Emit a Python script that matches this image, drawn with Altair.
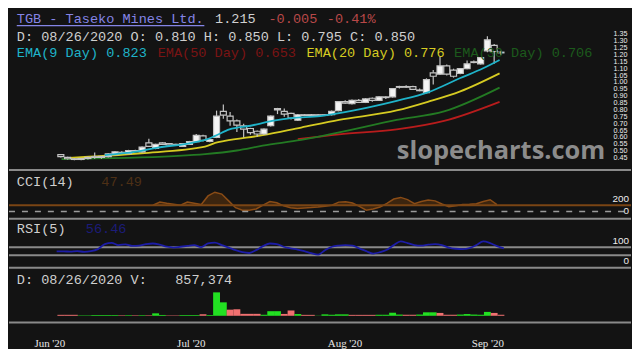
import altair as alt
import pandas as pd

# ---------------- data ----------------
opens  = [.475,.455,.445,.44,.447,.46,.455,.46,.475,.492,.483,.505,.495,.56,.52,.56,.555,.55,.535,.55,
          .57,.612,.572,.60,.79,.755,.72,.685,.665,.645,.625,.685,.81,.79,.775,.725,.765,.76,.765,.76,
          .765,.795,.86,.845,.87,.855,.885,.87,.895,.895,.965,.97,.97,.945,.925,1.07,1.06,1.12,1.09,1.065,
          1.10,1.15,1.135,1.23,1.27,1.22]
highs  = [.48,.46,.45,.45,.46,.49,.465,.485,.50,.50,.51,.51,.535,.59,.555,.565,.56,.555,.56,.575,
          .625,.62,.59,.795,.84,.785,.73,.70,.67,.65,.665,.76,.815,.81,.78,.77,.77,.77,.77,.77,
          .795,.865,.87,.875,.88,.885,.89,.90,.90,.96,.975,.98,.975,.955,1.03,1.09,1.19,1.13,1.10,1.105,
          1.16,1.16,1.185,1.335,1.28,1.23]
lows   = [.455,.44,.435,.435,.44,.445,.445,.455,.47,.48,.48,.495,.49,.53,.515,.545,.54,.54,.53,.545,
          .565,.57,.565,.595,.735,.685,.64,.60,.62,.605,.62,.68,.77,.75,.73,.72,.755,.755,.755,.755,
          .76,.79,.845,.84,.85,.85,.86,.865,.88,.89,.955,.96,.945,.935,.92,.985,1.055,1.05,1.035,1.06,
          1.095,1.14,1.13,1.22,1.135,1.20]
closes = [.46,.445,.44,.447,.455,.455,.462,.48,.495,.485,.505,.50,.53,.535,.55,.55,.545,.545,.555,.57,
          .615,.578,.585,.755,.762,.72,.69,.66,.635,.625,.66,.755,.80,.77,.74,.765,.76,.765,.76,.765,
          .79,.86,.85,.87,.855,.88,.87,.895,.89,.955,.97,.965,.95,.94,1.02,1.045,1.12,1.06,1.045,1.10,
          1.135,1.145,1.18,1.31,1.225,1.215]

volume = [470e3,470e3,470e3,200e3,200e3,350e3,350e3,350e3,350e3,250e3,300e3,250e3,300e3,250e3,1.2e6,400e3,
          200e3,200e3,350e3,350e3,350e3,750e3,350e3,11.5e6,6.6e6,3.0e6,3.2e6,950e3,950e3,950e3,500e3,
          2.25e6,2.25e6,900e3,2.6e6,850e3,450e3,450e3,100e3,700e3,500e3,700e3,700e3,450e3,450e3,450e3,
          450e3,500e3,500e3,1.5e6,600e3,500e3,500e3,600e3,1.7e6,1.7e6,1.4e6,500e3,500e3,600e3,850e3,
          600e3,500e3,1.9e6,1.4e6,500e3]
volume_up = [0,0,0,1,1,1,1,1,1,0,1,0,1,0,1,1,0,0,1,1,1,0,1,1,1,0,0,0,0,0,1,1,1,0,0,1,0,0,1,1,
             1,1,1,0,0,0,0,1,1,1,1,0,0,1,1,1,0,0,0,1,1,1,1,1,0,0]

ema9_x  = [6.5,11.4,14.3,18.5,21.3,22.7,24.9,28.0,31.2,34.0,38.3,41.1,45.3,49.6,54.2,59.0,62.3,64.8]
ema9_y  = [.471,.498,.526,.554,.582,.609,.658,.685,.72,.741,.755,.776,.817,.866,.928,1.032,1.101,1.163]
ema20_x = [0.6,11.9,21.3,22.8,24.2,29.8,35.5,41.1,49.6,54.2,59.0,64.8]
ema20_y = [.45,.485,.533,.56,.575,.616,.672,.727,.796,.859,.935,1.066]
ema30_x = [0.1,16.7,21.3,26.0,29.8,35.5,41.1,49.6,56.6,64.8]
ema30_y = [.443,.464,.478,.505,.54,.582,.637,.727,.789,.962]
ema50_x = [35.0,41.1,49.6,56.6,64.8]
ema50_y = [.588,.623,.658,.72,.859]

cci_first = 14
cci_vals = [100,150,130,115,100,150,130,110,250,310,280,170,60,20,20,40,100,160,140,90,60,48,55,62,72,
            85,100,150,155,135,80,20,40,70,130,200,226,190,125,160,185,170,120,75,90,110,115,123,160,189,108]
rsi_vals = [49,49,48,50,47,50,60,85,91,80,84,76,78,85,88,82,72,68,72,76,80,70,88,92,80,68,55,45,41,55,
            75,88,85,72,64,58,50,40,33,55,72,78,80,78,64,50,38,45,57,80,98,90,80,77,82,85,80,68,62,60,
            65,80,98,90,75,64]

price_ticks = [0.45,0.50,0.55,0.60,0.65,0.70,0.75,0.80,0.85,0.90,0.95,1.00,1.05,1.10,1.15,1.20,1.25,1.30,1.35]
cci_ticks = [0, 200]
cci_levels = [100, 0]
rsi_ticks = [0, 100]
rsi_levels = [70, 30]
month_labels = ["Jun '20", "Jul '20", "Aug '20", "Sep '20"]
month_pos = [-1.7, 19.2, 41.9, 63.0]

title_parts = ["TGB - Taseko Mines Ltd.", "1.215", "-0.005", "-0.41%"]
quote_line = " D: 08/26/2020 O: 0.810 H: 0.850 L: 0.795 C: 0.850"
ema_labels = ["EMA(9 Day) 0.823", "EMA(50 Day) 0.653", "EMA(20 Day) 0.776", "EMA(30 Day) 0.706"]
cci_label = ["CCI(14)", "47.49"]
rsi_label = ["RSI(5)", "56.46"]
vol_label = ["D: 08/26/2020 V:", "857,374"]
watermark = "slopecharts.com"

# ---------------- layout ----------------
SX = 624 / 640
SY = 343 / 359
W = 624
H_PRICE, H_CCI, H_RSI, H_VOL = 163, 49, 49, 55
TOP_CCI = H_PRICE
TOP_RSI = TOP_CCI + H_CCI
TOP_VOL = TOP_RSI + H_RSI
BG = "#131313"
MONO = "Liberation Mono"
FS = 13.6

X0, DX = 49.0, 7.08
x_dom = [(0 - X0) / DX, (640 - X0) / DX]
def p_at(ry):
    return 0.45 + (157 - ry) / 144.4
price_dom = [p_at(H_PRICE / SY), p_at(0)]
def cci_at(ry):
    return (213 - ry) / 0.065
cci_dom = [cci_at(TOP_RSI / SY), cci_at(TOP_CCI / SY)]
def rsi_at(ry):
    return (265.4 - ry) / 0.2125
rsi_dom = [rsi_at(TOP_VOL / SY), rsi_at(TOP_RSI / SY)]
def vol_at(ry):
    return (322.6 - ry) / 24.6 * 11.5e6
vol_dom = [vol_at((TOP_VOL + H_VOL) / SY), vol_at(TOP_VOL / SY)]

xs = alt.Scale(domain=x_dom, nice=False, zero=False)
X = alt.X("i:Q", scale=xs, axis=None)

one = pd.DataFrame({"k": [0]})

def label(text, rx, ry, top, color, size=FS, font=MONO, weight="normal", opacity=1.0):
    return alt.Chart(pd.DataFrame({"t": [text]})).mark_text(
        align="left", baseline="middle", font=font, fontSize=size, color=color,
        fontWeight=weight, opacity=opacity
    ).encode(text="t:N", x=alt.value(rx * SX), y=alt.value(ry * SY - top))

def separator(h):
    return alt.Chart(one).mark_rule(color="#8a8a8a", strokeWidth=2).encode(
        x=alt.value(0), x2=alt.value(W), y=alt.value(h - 1))

def tick_text(values, scale, rx, align, size, fmt):
    df = pd.DataFrame({"v": values, "t": [format(v, fmt) for v in values]})
    return alt.Chart(df).mark_text(align=align, baseline="middle", font="Liberation Sans",
                                   fontSize=size, color="#ececec").encode(
        x=alt.value(rx * SX), y=alt.Y("v:Q", scale=scale, axis=None), text="t:N")

# ---------------- price panel ----------------
candles = pd.DataFrame({"i": list(range(len(opens))), "open": opens, "high": highs,
                        "low": lows, "close": closes})
candles["dir"] = ["up" if c >= o else "down" for o, c in zip(opens, closes)]
ys_price = alt.Scale(domain=price_dom, nice=False, zero=False)

wicks = alt.Chart(candles).mark_rule(color="#c4c4c4", strokeWidth=1.2).encode(
    x=X, y=alt.Y("low:Q", scale=ys_price, axis=None), y2="high:Q")
bodies = alt.Chart(candles).mark_bar(width=6, stroke="#c4c4c4", strokeWidth=1.2).encode(
    x=X, y=alt.Y("open:Q", scale=ys_price, axis=None), y2="close:Q",
    fill=alt.Fill("dir:N", scale=alt.Scale(domain=["up", "down"], range=["#f4f4f4", BG]), legend=None))

def ema_line(xv, yv, color):
    df = pd.DataFrame({"i": xv, "v": yv})
    return alt.Chart(df).mark_line(color=color, strokeWidth=1.8, interpolate="monotone").encode(
        x=X, y=alt.Y("v:Q", scale=ys_price, axis=None))

price_layers = [
    label(watermark, 399, 150, 0, "#8c8c8c", size=25.5, font="Open Sans", weight="bold"),
    ema_line(ema50_x, ema50_y, "#b81c1c"),
    ema_line(ema30_x, ema30_y, "#237a23"),
    ema_line(ema20_x, ema20_y, "#d6cb22"),
    wicks, bodies,
    ema_line(ema9_x, ema9_y, "#1fb3c9"),
    tick_text(price_ticks, ys_price, 622, "left", 7.2, ".2f"),
    label(title_parts[0], 8, 10.5, 0, "#8585e6"),
    alt.Chart(one).mark_rule(color="#8585e6", strokeWidth=1.2).encode(
        x=alt.value(8 * SX), x2=alt.value(201 * SX), y=alt.value(18 * SY)),
    label(title_parts[1], 212, 10.5, 0, "#d0d0d0"),
    label(title_parts[2], 267, 10.5, 0, "#b84848"),
    label(title_parts[3], 327, 10.5, 0, "#b84848"),
    label(quote_line, 8, 30, 0, "#cfcfcf"),
    label(ema_labels[0], 8, 47, 0, "#1fb3c9"),
    label(ema_labels[1], 153, 47, 0, "#7a1414"),
    label(ema_labels[2], 306, 47, 0, "#d6cb22"),
    label(ema_labels[3], 458, 47, 0, "#1c5a1c"),
    separator(H_PRICE),
]
price = alt.layer(*price_layers).properties(width=W, height=H_PRICE)

# ---------------- CCI panel ----------------
ys_cci = alt.Scale(domain=cci_dom, nice=False, zero=False)
cci_df = pd.DataFrame({"i": list(range(cci_first, cci_first + len(cci_vals))), "cci": cci_vals})
cci_area = alt.Chart(cci_df).mark_area(color="#4f2d0e", line={"color": "#8a4c16", "strokeWidth": 1.5}).encode(
    x=X, y=alt.Y("cci:Q", scale=ys_cci, axis=None), y2=alt.datum(cci_levels[0]))
cci_lvl = alt.Chart(one).mark_rule(color="#7a4514", strokeWidth=2).encode(
    x=alt.value(0), x2=alt.value(W), y=alt.datum(cci_levels[0], scale=ys_cci, axis=None))
cci_zero = alt.Chart(one).mark_rule(color="#9a9a9a", strokeWidth=1.5, strokeDash=[6, 7]).encode(
    x=alt.value(0), x2=alt.value(W), y=alt.datum(cci_levels[1], scale=ys_cci, axis=None))
cci = alt.layer(
    cci_area, cci_lvl, cci_zero,
    tick_text(cci_ticks, ys_cci, 638, "right", 10, "d"),
    label(cci_label[0], 8, 182, TOP_CCI, "#cfcfcf"),
    label(cci_label[1], 95, 182, TOP_CCI, "#4d3016"),
    separator(H_CCI),
).properties(width=W, height=H_CCI)

# ---------------- RSI panel ----------------
ys_rsi = alt.Scale(domain=rsi_dom, nice=False, zero=False)
rsi_df = pd.DataFrame({"i": list(range(len(rsi_vals))), "rsi": rsi_vals})
rsi_levels_df = pd.DataFrame({"lvl": rsi_levels})
rsi_lines = alt.Chart(rsi_levels_df).mark_rule(color="#8a8a8a", strokeWidth=2).encode(
    x=alt.value(0), x2=alt.value(W), y=alt.Y("lvl:Q", scale=ys_rsi, axis=None))
rsi_line = alt.Chart(rsi_df).mark_line(color="#1c1ca6", strokeWidth=1.8, interpolate="monotone").encode(
    x=X, y=alt.Y("rsi:Q", scale=ys_rsi, axis=None))
rsi = alt.layer(
    tick_text(rsi_ticks, ys_rsi, 638, "right", 10, "d"),
    rsi_lines, rsi_line,
    label(rsi_label[0], 8, 232, TOP_RSI, "#cfcfcf"),
    label(rsi_label[1], 79, 232, TOP_RSI, "#1c1c78"),
    separator(H_RSI),
).properties(width=W, height=H_RSI)

# ---------------- volume panel ----------------
ys_vol = alt.Scale(domain=vol_dom, nice=False, zero=False)
vol_df = pd.DataFrame({"i": list(range(len(volume))), "v": volume,
                       "d": ["up" if u else "down" for u in volume_up]})
label_expr = "''"
for pos, lab in reversed(list(zip(month_pos, month_labels))):
    label_expr = f"abs(datum.value - ({pos})) < 0.01 ? \"{lab}\" : {label_expr}"
vol_bars = alt.Chart(vol_df).mark_bar(width=6.9).encode(
    x=alt.X("i:Q", scale=xs,
            axis=alt.Axis(values=month_pos, labelExpr=label_expr, grid=False, domain=False,
                          ticks=False, labelPadding=20, labelBaseline="middle",
                          labelFont="Liberation Serif", labelFontSize=11, labelColor="#e6e6e6",
                          labelOverlap=False, labelFlush=False, title=None)),
    y=alt.Y("v:Q", scale=ys_vol, axis=None), y2=alt.datum(0),
    color=alt.Color("d:N", scale=alt.Scale(domain=["up", "down"], range=["#22e022", "#f07070"]),
                    legend=None))
vol = alt.layer(
    vol_bars,
    label(vol_label[0], 8, 285, TOP_VOL, "#cfcfcf"),
    label(vol_label[1], 171, 285, TOP_VOL, "#cfcfcf"),
    separator(H_VOL),
).properties(width=W, height=H_VOL)

chart = alt.vconcat(price, cci, rsi, vol, spacing=0).properties(
    padding={"left": 0, "top": 0, "right": 0, "bottom": 0}, background=BG
).configure_view(stroke=None).configure_concat(spacing=0)

chart.save("out.html", embed_options={"renderer": "svg", "actions": False})
